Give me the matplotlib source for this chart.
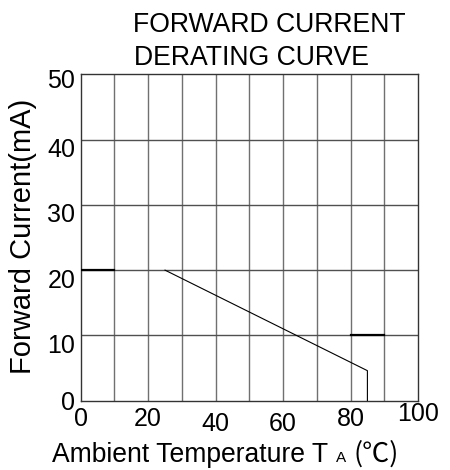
import matplotlib
matplotlib.use("Agg")
import matplotlib.pyplot as plt
from matplotlib.transforms import ScaledTranslation

# data
temps = [25, 85, 85]
currents = [20, 4.6, 0]
mark1_x = [0, 10]
mark1_y = [20, 20]
mark2_x = [80, 90]
mark2_y = [10, 10]
xticks = [0, 20, 40, 60, 80, 100]
yticks = [0, 10, 20, 30, 40, 50]
xtick_labels = ["0", "20", "40", "60", "80", "100"]
ytick_labels = ["0", "10", "20", "30", "40", "50"]

plt.rcParams['font.family'] = ['Liberation Sans', 'DejaVu Sans']
W, H = 450, 470
fig = plt.figure(figsize=(W / 100, H / 100), dpi=100)
ax = fig.add_axes([80.7 / W, 1 - 400.7 / H, (418 - 80.7) / W, (400.7 - 74.3) / H])
ax.set_xlim(0, 100)
ax.set_ylim(0, 50)

# grid
for gx in range(10, 100, 10):
    ax.axvline(gx, color='#707070', lw=1.0, zorder=1)
for gy in range(10, 50, 10):
    ax.axhline(gy, color='#505050', lw=1.0, zorder=1)

ax.plot(temps, currents, color='black', lw=0.8, zorder=3)
ax.plot(mark1_x, mark1_y, color='black', lw=1.6, zorder=3)
ax.plot(mark2_x, mark2_y, color='black', lw=1.6, zorder=3)

for s in ax.spines.values():
    s.set_color('#333333')
    s.set_linewidth(1.0)

fs = 18
ax.set_xticks(xticks, xtick_labels, fontsize=fs)
ax.set_yticks(yticks, ytick_labels, fontsize=fs)
ax.tick_params(axis='both', length=0)
ax.tick_params(axis='x', pad=4.5)
ax.tick_params(axis='y', pad=4)

xoff = {"0": 0, "20": 0, "40": -5, "60": -5, "80": 0, "100": 5}
yoff = {"0": 0, "10": -8, "20": -8, "30": -8, "40": -8, "50": -4}
for lab in ax.get_xticklabels():
    d = xoff.get(lab.get_text(), 0)
    lab.set_transform(lab.get_transform() + ScaledTranslation(0, d / 100, fig.dpi_scale_trans))
for lab in ax.get_yticklabels():
    d = yoff.get(lab.get_text(), 0)
    lab.set_transform(lab.get_transform() + ScaledTranslation(0, d / 100, fig.dpi_scale_trans))

# title
fig.text(133 / W, 1 - 31.7 / H, "FORWARD CURRENT", fontsize=19.2, ha='left', va='baseline')
fig.text(134 / W, 1 - 65 / H, "DERATING CURVE", fontsize=19.2, ha='left', va='baseline')

# y label
fig.text(23 / W, 1 - 236.5 / H, "Forward Current(mA)", fontsize=21, rotation=90,
         ha='center', va='center')

# x label pieces
base = 1 - 462 / H
fig.text(52 / W, base, "Ambient Temperature T", fontsize=19.1, ha='left', va='baseline')
fig.text(336 / W, base, "A", fontsize=11, ha='left', va='baseline')
fig.text(353 / W, base, "(℃)", fontsize=19.5, ha='left', va='baseline',
         family=['Noto Sans CJK SC', 'Liberation Sans'])

fig.savefig("out.png", dpi=100)
